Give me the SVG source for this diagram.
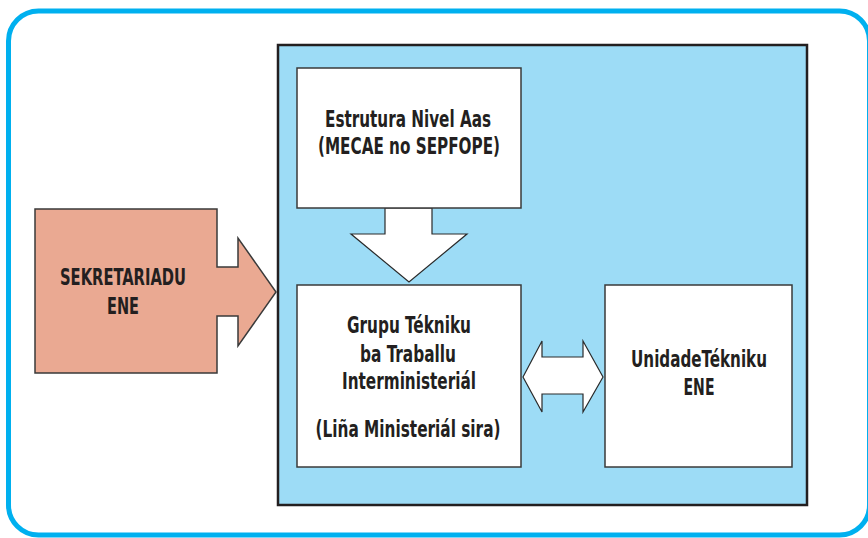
<svg xmlns="http://www.w3.org/2000/svg" width="868" height="538" viewBox="0 0 868 538">
<style>
.t{font-family:"DejaVu Sans Condensed","Liberation Sans Narrow","Liberation Sans",sans-serif;font-weight:bold;font-size:23.5px;fill:#231f20;text-anchor:middle}
.box{fill:#ffffff;stroke:#3a3a3a;stroke-width:1.5}
.wa{fill:#ffffff;stroke:#2a2a2a;stroke-width:1.2;stroke-linejoin:miter}
</style>
<rect width="868" height="538" fill="#ffffff"/>
<rect id="frame" x="8.5" y="11" width="861" height="524" rx="30" ry="30" fill="none" stroke="#00b0ef" stroke-width="5"/>
<g id="container">
<rect x="278" y="45" width="529" height="460" fill="#9ddcf6" stroke="#231f20" stroke-width="2.5"/>
</g>
<g id="connectors">
<polygon class="wa" points="385,208 432,208 432,234 467,234 409,282 351,234 385,234"/>
<polygon class="wa" points="523,377 542,341 542,357 583,357 583,341 603,377 583,412 583,394 542,394 542,412"/>
</g>
<g id="sekretariadu">
<polygon points="35,209 217,209 217,267 238,267 238,238 276,292 238,346 238,316 217,316 217,373 35,373" fill="#eaa992" stroke="#3a3a3a" stroke-width="1.5"/>
<text class="t" x="123" y="285" textLength="126" lengthAdjust="spacingAndGlyphs">SEKRETARIADU</text>
<text class="t" x="123" y="314" textLength="32" lengthAdjust="spacingAndGlyphs">ENE</text>
</g>
<g id="estrutura">
<rect class="box" x="297" y="68" width="224" height="140"/>
<text class="t" x="408" y="127" textLength="166" lengthAdjust="spacingAndGlyphs">Estrutura Nivel Aas</text>
<text class="t" x="409" y="154" textLength="182" lengthAdjust="spacingAndGlyphs">(MECAE no SEPFOPE)</text>
</g>
<g id="grupu">
<rect class="box" x="297" y="285" width="224" height="182"/>
<text class="t" x="409" y="333" textLength="124" lengthAdjust="spacingAndGlyphs">Grupu Tékniku</text>
<text class="t" x="408" y="362" textLength="96" lengthAdjust="spacingAndGlyphs">ba Traballu</text>
<text class="t" x="409" y="389" textLength="134" lengthAdjust="spacingAndGlyphs">Interministeriál</text>
<text class="t" x="408" y="437" textLength="185" lengthAdjust="spacingAndGlyphs">(Liña Ministeriál sira)</text>
</g>
<g id="unidade">
<rect class="box" x="605" y="285" width="187" height="182"/>
<text class="t" x="699" y="367" textLength="136" lengthAdjust="spacingAndGlyphs">UnidadeTékniku</text>
<text class="t" x="699" y="395" textLength="31" lengthAdjust="spacingAndGlyphs">ENE</text>
</g>
</svg>
